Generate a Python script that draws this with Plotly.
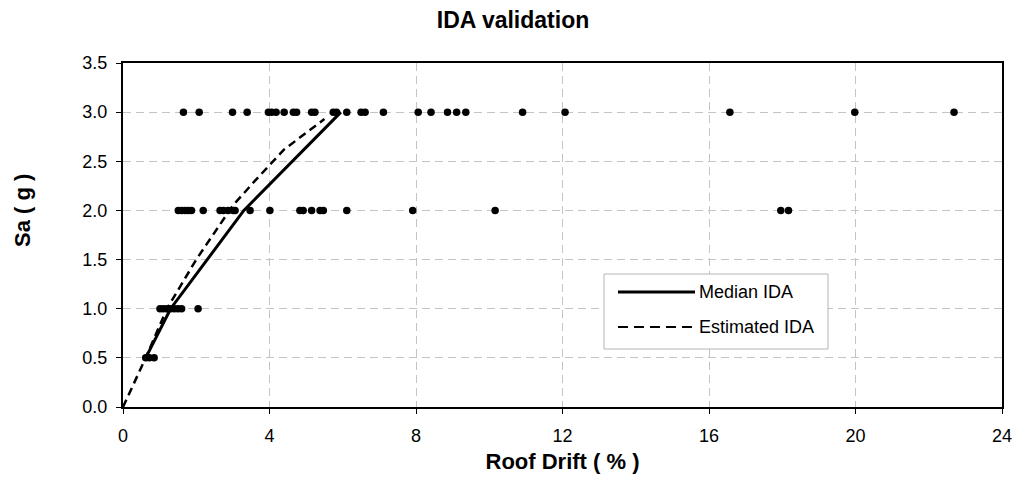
import plotly.graph_objects as go

# Individual record results (roof drift %, Sa in g)
drift_05 = [0.62, 0.72, 0.85]
drift_10 = [1.01, 1.10, 1.20, 1.30, 1.40, 1.50, 1.60, 2.05]
drift_20 = [1.51, 1.60, 1.69, 1.78, 1.87, 2.19, 2.65, 2.74, 2.87, 3.01, 3.06,
            3.47, 4.01, 4.83, 4.92, 5.15, 5.38, 5.47, 6.11, 7.91, 10.16,
            17.96, 18.17]
drift_30 = [1.65, 2.08, 2.99, 3.39, 3.97, 4.06, 4.18, 4.40, 4.65, 4.74, 5.15,
            5.24, 5.74, 5.83, 6.11, 6.50, 6.61, 7.11, 8.06, 8.41, 8.86, 9.11,
            9.36, 10.91, 12.07, 16.57, 19.98, 22.69]

# Median IDA curve
median_drift = [0.62, 1.30, 3.30, 5.95]
median_sa = [0.5, 1.0, 2.0, 3.0]

# Estimated IDA curve
est_drift = [0.0, 0.62, 1.20, 2.00, 3.00, 3.60, 4.40, 5.50]
est_sa = [0.0, 0.5, 1.0, 1.5, 2.05, 2.30, 2.62, 2.93]

x_ticks = [0, 4, 8, 12, 16, 20, 24]
y_ticks = [0.0, 0.5, 1.0, 1.5, 2.0, 2.5, 3.0, 3.5]

pts_x = drift_05 + drift_10 + drift_20 + drift_30
pts_y = ([0.5] * len(drift_05) + [1.0] * len(drift_10)
         + [2.0] * len(drift_20) + [3.0] * len(drift_30))

FONT = "Liberation Sans, Arial, sans-serif"

# plot-area pixel frame used for placing the legend panel
L, R, T, B = 123, 1002, 63, 407
def px(x):
    return (x - L) / (R - L)
def py(y):
    return (B - y) / (B - T)

fig = go.Figure()
fig.add_trace(go.Scatter(
    x=pts_x, y=pts_y, mode="markers",
    marker=dict(color="black", size=7.5), showlegend=False, cliponaxis=False))
fig.add_trace(go.Scatter(
    x=median_drift, y=median_sa, mode="lines", name="Median IDA",
    line=dict(color="black", width=3), showlegend=False))
fig.add_trace(go.Scatter(
    x=est_drift, y=est_sa, mode="lines", name="Estimated IDA",
    line=dict(color="black", width=2.5, dash="8px,5px"), showlegend=False))

axis_common = dict(
    showline=True, linecolor="black", linewidth=2, mirror=True,
    ticks="outside", ticklen=5, tickcolor="black", tickwidth=1,
    showgrid=True, gridcolor="#c4c4c4", gridwidth=1, griddash="8px,5px",
    zeroline=False, automargin=False,
    tickfont=dict(family=FONT, size=18, color="black"),
)

fig.update_xaxes(range=[0, 24], tickvals=x_ticks, ticklabelstandoff=6,
                 title=dict(text="<b>Roof Drift ( % )</b>",
                            font=dict(family=FONT, size=22, color="black"),
                            standoff=9),
                 **axis_common)
fig.update_yaxes(range=[0, 3.5], tickvals=y_ticks, tickformat=".1f",
                 ticklabelstandoff=5, **axis_common)

# Legend panel
shapes = [
    dict(type="rect", xref="paper", yref="paper",
         x0=px(604), x1=px(828), y0=py(349), y1=py(274),
         line=dict(color="#b4b4b4", width=1), fillcolor="white", layer="above"),
    dict(type="line", xref="paper", yref="paper",
         x0=px(618), x1=px(695), y0=py(292), y1=py(292),
         line=dict(color="black", width=3), layer="above"),
    dict(type="line", xref="paper", yref="paper",
         x0=px(618), x1=px(695), y0=py(327), y1=py(327),
         line=dict(color="black", width=2, dash="10px,6px"), layer="above"),
]
annotations = [
    dict(text="Median IDA", xref="paper", yref="paper",
         x=px(697), y=py(292), xanchor="left", yanchor="middle",
         showarrow=False, font=dict(family=FONT, size=18, color="black")),
    dict(text="Estimated IDA", xref="paper", yref="paper",
         x=px(697), y=py(327), xanchor="left", yanchor="middle",
         showarrow=False, font=dict(family=FONT, size=18, color="black")),
    dict(text="<b>Sa ( g )</b>", xref="paper", yref="paper",
         x=px(22), y=py(211), xanchor="center", yanchor="middle",
         textangle=-90, showarrow=False,
         font=dict(family=FONT, size=22, color="black")),
]

fig.update_layout(
    width=1015, height=479,
    margin=dict(l=L, r=1015 - R, t=T, b=479 - B),
    paper_bgcolor="white", plot_bgcolor="white",
    title=dict(text="<b>IDA validation</b>", x=513 / 1015,
               xanchor="center", y=1 - 20 / 479, yanchor="middle",
               font=dict(family=FONT, size=23, color="black")),
    shapes=shapes, annotations=annotations,
)

fig.write_html("out.html")
